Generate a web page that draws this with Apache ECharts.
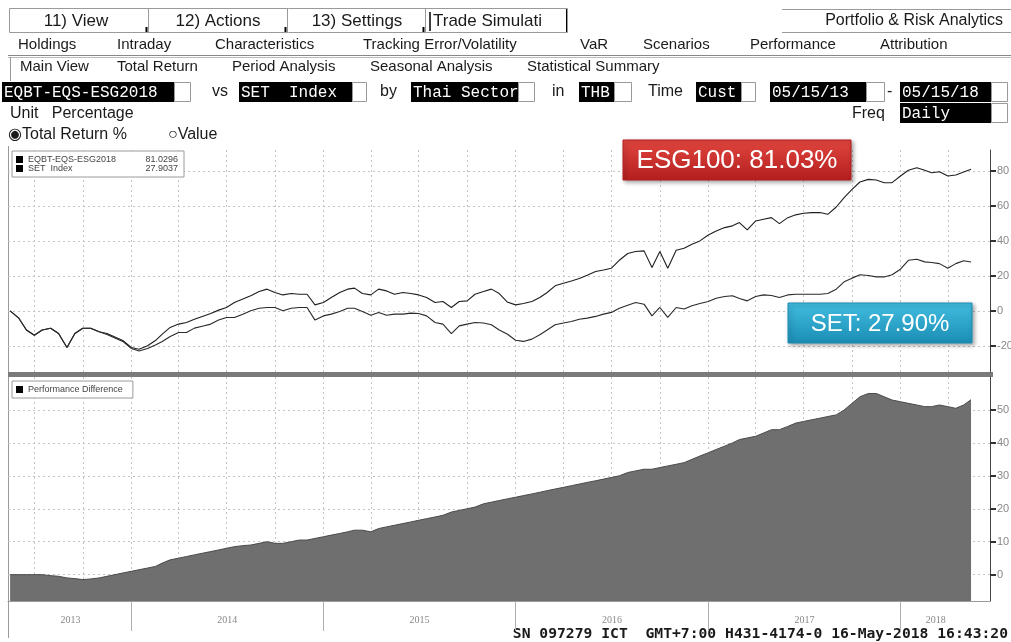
<!DOCTYPE html>
<html><head><meta charset="utf-8">
<script src="https://cdn.jsdelivr.net/npm/echarts@6/dist/echarts.min.js"></script>
<style>html,body{margin:0;padding:0;background:#fff}#c{width:1011px;height:642px}</style>
</head><body><div id="c"></div><script>
// ---- data (semi-monthly samples of the daily lines) ----
const dates = [
 '2013-05-16','2013-06-01','2013-06-16','2013-07-01','2013-07-16','2013-08-01','2013-08-16','2013-09-01','2013-09-16','2013-10-01','2013-10-16','2013-11-01','2013-11-16','2013-12-01','2013-12-16',
 '2014-01-01','2014-01-16','2014-02-01','2014-02-16','2014-03-01','2014-03-16','2014-04-01','2014-04-16','2014-05-01','2014-05-16','2014-06-01','2014-06-16',
 '2014-07-01','2014-07-16','2014-08-01','2014-08-16','2014-09-01','2014-09-16','2014-10-01','2014-10-16','2014-11-01','2014-11-16','2014-12-01','2014-12-16',
 '2015-01-01','2015-01-16','2015-02-01','2015-02-16','2015-03-01','2015-03-16','2015-04-01','2015-04-16','2015-05-01','2015-05-16','2015-06-01','2015-06-16',
 '2015-07-01','2015-07-16','2015-08-01','2015-08-16','2015-09-01','2015-09-16','2015-10-01','2015-10-16','2015-11-01','2015-11-16','2015-12-01','2015-12-16',
 '2016-01-01','2016-01-16','2016-02-01','2016-02-16','2016-03-01','2016-03-16','2016-04-01','2016-04-16','2016-05-01','2016-05-16','2016-06-01','2016-06-16',
 '2016-07-01','2016-07-16','2016-08-01','2016-08-16','2016-09-01','2016-09-16','2016-10-01','2016-10-16','2016-11-01','2016-11-16','2016-12-01','2016-12-16',
 '2017-01-01','2017-01-16','2017-02-01','2017-02-16','2017-03-01','2017-03-16','2017-04-01','2017-04-16','2017-05-01','2017-05-16','2017-06-01','2017-06-16',
 '2017-07-01','2017-07-16','2017-08-01','2017-08-16','2017-09-01','2017-09-16','2017-10-01','2017-10-16','2017-11-01','2017-11-16','2017-12-01','2017-12-16',
 '2018-01-01','2018-01-16','2018-02-01','2018-02-16','2018-03-01','2018-03-16','2018-04-01','2018-04-16','2018-05-01','2018-05-15'];
const esgReturn = [
 0,-4,-11,-14,-11,-10,-13,-21,-13,-10,-10,-12,-13,-15,-17,
 -21,-22,-20,-17,-13.3,-9.5,-7.6,-6.7,-4.8,-3.2,-1.5,0.4,
 1.9,4.8,6.7,8.6,11,12.4,10.5,9.1,9.9,9.5,9.5,3.4,
 4.8,7.6,10.5,12.4,13,9.9,9.1,12.4,11.4,9.5,10.5,9.9,
 9.1,7.6,4.8,5.3,1.9,5.3,5.7,9.5,11,12.4,9.9,5.1,
 3.4,4.2,5.3,7.6,10.5,14.3,15.8,17.1,18.5,20.4,22.5,23.4,
 24.4,28.9,32.8,33.9,34.3,24.8,33.9,24.4,34.7,35.8,38.1,40,
 43.4,45.7,47.6,48.6,50.5,46.3,51.4,52.4,53.3,49.9,53.3,54.9,
 55.8,56.2,56.2,55.2,59.4,64.8,69.5,73.7,75.2,74.8,73.3,73.3,
 77.1,80.4,81.9,80.4,79,79.6,77.1,77.7,79.4,81.03];
const setReturn = [
 0,-4,-11,-14,-11,-10,-13,-21,-13,-10,-10,-12,-13.5,-15.5,-17.5,
 -21.5,-23,-21.5,-19.5,-17.5,-14.7,-12.4,-12.4,-9.9,-8.8,-7.6,-5.3,
 -3.8,-3.8,-1.9,0,1.5,1.9,1.9,0,1.5,1.9,1.9,-5.3,
 -2.9,-1.9,-0.4,1.5,1.5,-0.4,-2.5,-1,-2.5,-1.9,-1.9,-1.3,
 -1.5,-2.9,-6.7,-7.6,-13,-8.6,-7.6,-6.7,-7,-8,-11,-13.3,
 -16.8,-17.5,-16.2,-13.7,-11,-8,-7,-6.1,-4.8,-4.2,-3.2,-1.9,
 -0.9,1.5,3.2,4.8,3.8,-2.9,1.9,-3.8,1.9,1,2.9,4.2,
 5.3,7.2,8.2,8.6,7,5.7,8.2,9.1,8.8,7.6,9.1,9.5,
 9.5,9.5,9.5,9.9,12.4,16.6,18.7,20.6,20.2,19.4,19.4,20.6,
 23.8,28.9,29.5,28,27.6,27,24.4,27,28.6,27.90];
const perfDiff = [
 0,0,0,0,0,-0.3,-0.5,-1,-1.2,-1.5,-1.3,-1,-0.5,0,0.5,
 1,1.5,2,2.5,3.5,4.5,5,5.5,6,6.5,7,7.5,
 8,8.5,8.8,9,9.5,10,9.5,9.5,10,10.5,10.5,11,
 11.5,12,12.5,13,13.5,13.5,13,14,14.5,15,15.5,16,
 16.5,17,17.5,18,19,19.5,20,20.5,21.5,22,22.5,23,
 23.5,24,24.5,25,25.5,26,26.5,27,27.5,28,28.5,29,
 29.5,30,31,31.5,32,32,32.5,33,33.5,34,35,36,
 37,38,39,40,41,41.5,42,43,44,44,45,46,
 46.5,47,47.5,48,48.5,50,52,54,55,55,54,53,
 52.5,52,51.5,51,51,51.5,51,50.5,51.5,53.13];
const seriesNames = ['EQBT-EQS-ESG2018', 'SET  Index', 'Performance Difference'];
const legendValues = ['81.0296', '27.9037'];
const years = [2013, 2014, 2015, 2016, 2017, 2018];
const upperTicks = [-20, 0, 20, 40, 60, 80];
const lowerTicks = [0, 10, 20, 30, 40, 50];
const calloutTexts = ['ESG100: 81.03%', 'SET: 27.90%'];
const startDate = '2013-05-15', endDate = '2018-05-15';
const axisStart = '2013-05-12', axisEnd = '2018-06-20';

// ---- derived axis helpers ----
const ts = d => +new Date(d + 'T00:00:00Z');
const tMin = ts(axisStart), tMax = ts(axisEnd);
const dStart = ts(startDate), dEnd = ts(endDate);
const yearStarts = years.slice(1).map(y => ts(y + '-01-01'));
const yearMids = years.map(y => {
  const a = Math.max(dStart, ts(y + '-01-01')), b = Math.min(dEnd, ts((y + 1) + '-01-01'));
  return (a + b) / 2;
});
const quarterLines = [];
years.forEach(y => ['01','04','07','10'].forEach(m => {
  const t = ts(y + '-' + m + '-01'); if (t > tMin && t < tMax) quarterLines.push(t);
}));
const pairs = arr => dates.map((d, i) => [ts(d), arr[i]]);

// ---- header UI helpers ----
const SANS = 'Liberation Sans', MONO = 'Liberation Mono';
const G = [];
function T(x, y, text, o) {
  o = o || {};
  G.push({type: 'text', x: x, y: y, silent: true, style: {text: text, fill: o.fill || '#1a1a1a',
    font: (o.weight || 'normal') + ' ' + (o.size || 15) + 'px "' + (o.family || SANS) + '"',
    align: o.align || 'left', verticalAlign: 'middle'}});
}
function R(x, y, w, h, fill, stroke) {
  G.push({type: 'rect', shape: {x: x, y: y, width: w, height: h}, silent: true,
    style: {fill: fill || 'none', stroke: stroke || null, lineWidth: 1}});
}
function L(x1, y1, x2, y2, c, w) {
  G.push({type: 'line', shape: {x1: x1, y1: y1, x2: x2, y2: y2}, silent: true,
    style: {stroke: c || '#888', lineWidth: w || 1}});
}
// row 1 tabs
R(9.5, 8.5, 558, 24, null, '#9a9a9a');
[148, 287, 425].forEach(x => { L(x + 0.5, 9, x + 0.5, 32, '#9a9a9a'); L(x - 1.5, 27, x - 1.5, 32, '#000', 2); });
T(76, 21, '11) View', {size: 17, align: 'center'});
T(218, 21, '12) Actions', {size: 17, align: 'center'});
T(357, 21, '13) Settings', {size: 17, align: 'center'});
T(433, 21, 'Trade Simulati', {size: 17});
L(430, 12, 430, 31, '#000', 1.5); L(566.5, 9, 566.5, 32, '#000', 1);
L(782, 9.5, 1011, 9.5, '#9a9a9a'); L(782, 32.5, 1011, 32.5, '#9a9a9a');
T(1003, 21, 'Portfolio & Risk Analytics', {size: 16, align: 'right'});
// row 2
[['Holdings',18],['Intraday',117],['Characteristics',215],['Tracking Error/Volatility',363],['VaR',580],['Scenarios',643],['Performance',750],['Attribution',880]]
  .forEach(a => T(a[1], 45, a[0], {size: 15}));
L(8, 55.5, 1011, 55.5, '#888'); L(8, 57.5, 1011, 57.5, '#bbb');
// row 3
[['Main View',20],['Total Return',117],['Period Analysis',232],['Seasonal Analysis',370],['Statistical Summary',527]]
  .forEach(a => T(a[1], 67, a[0], {size: 15}));
L(10.5, 57, 10.5, 81, '#999');
// row 4 field boxes
function field(x, w, text, wbox) {
  R(x, 82, w, 20, '#000'); R(x + w + 0.5, 82.5, wbox, 19, '#fff', '#999');
  T(x + 2, 92.5, text, {fill: '#fff', family: MONO, size: 16});
}
field(2, 172, 'EQBT-EQS-ESG2018', 16);
T(212, 92, 'vs', {size: 16});
field(239, 113, 'SET  Index', 14);
T(380, 92, 'by', {size: 16});
field(411, 107, 'Thai Sector', 16);
T(552, 92, 'in', {size: 16});
field(579, 35, 'THB', 17);
T(648, 92, 'Time', {size: 16});
field(696, 45, 'Cust', 14);
field(770, 96, '05/15/13', 18);
T(887, 92, '-', {size: 16});
field(900, 91, '05/15/18', 16);
// row 5
T(10, 114, 'Unit   Percentage', {size: 16});
T(852, 114, 'Freq', {size: 16});
R(900, 103, 91, 20, '#000'); R(991.5, 103.5, 16, 19, '#fff', '#999');
T(902, 113.5, 'Daily', {fill: '#fff', family: MONO, size: 16});
// row 6
T(8, 135, '\u25C9Total Return %', {size: 16});
T(168, 135, '\u25CBValue', {size: 16});
// plot frame pieces
L(8.5, 146, 8.5, 638, '#9a9a9a');
R(8, 372, 985, 5, '#7a7a7a');
// callouts
function callout(x, y, w, h, c1, c2, text, size) {
  G.push({type: 'rect', shape: {x: x, y: y, width: w, height: h}, silent: true, z: 100,
    style: {fill: new echarts.graphic.LinearGradient(0, 0, 0, 1, [{offset: 0, color: c1}, {offset: 1, color: c2}]),
      stroke: c2, lineWidth: 1, shadowBlur: 4, shadowOffsetX: 2, shadowOffsetY: 2, shadowColor: 'rgba(0,0,0,0.35)'}});
  G.push({type: 'text', x: x + w / 2, y: y + h / 2 + 1, z: 101, silent: true,
    style: {text: text, fill: '#fff', font: size + 'px "' + SANS + '"', align: 'center', verticalAlign: 'middle'}});
}
callout(623, 140, 228, 40, '#e2463f', '#b31e1e', calloutTexts[0], 26);
callout(788, 303, 184, 40, '#41bde0', '#1b8db4', calloutTexts[1], 24);
// footer
T(1008, 634, 'SN 097279 ICT  GMT+7:00 H431-4174-0 16-May-2018 16:43:20', {family: 'DejaVu Sans Mono', weight: 'bold', size: 14.7, align: 'right'});

const dotted = {show: true, lineStyle: {color: '#c4c4c4', type: [2, 3], width: 1}};
const chart = echarts.init(document.getElementById('c'), null, {renderer: 'canvas'});
chart.setOption({
  animation: false,
  backgroundColor: '#fff',
  grid: [
    {left: 8, right: 21, top: 150, bottom: 270, containLabel: false, outerBoundsMode: 'none'},
    {left: 8, right: 21, top: 377, bottom: 41, containLabel: false, outerBoundsMode: 'none'}
  ],
  legend: [
    {data: seriesNames.slice(0, 2), left: 12, top: 151, orient: 'vertical', itemGap: 0, itemWidth: 7, itemHeight: 7,
     icon: 'rect', selectedMode: false, borderColor: '#9a9a9a', borderWidth: 1, padding: [4, 6, 4, 4], backgroundColor: '#fff',
     formatter: n => '{n|' + n + '}{v|' + legendValues[seriesNames.indexOf(n)] + '}',
     textStyle: {fontSize: 9, color: '#444', fontFamily: SANS,
       rich: {n: {width: 104, fontSize: 9, color: '#444'}, v: {width: 46, align: 'right', fontSize: 9, color: '#444'}}}},
    {data: [seriesNames[2]], left: 12, top: 381, itemWidth: 7, itemHeight: 7, icon: 'rect', selectedMode: false,
     borderColor: '#9a9a9a', borderWidth: 1, padding: [4, 10, 4, 4], backgroundColor: '#fff',
     textStyle: {fontSize: 9, color: '#444', fontFamily: SANS}}
  ],
  xAxis: [
    {type: 'value', gridIndex: 0, min: tMin, max: tMax, axisLine: {show: false}, axisLabel: {show: false},
     axisTick: {show: false, customValues: quarterLines}, splitLine: dotted},
    {type: 'value', gridIndex: 1, min: tMin, max: tMax, position: 'bottom',
     axisLine: {show: true, onZero: false, lineStyle: {color: '#9a9a9a'}},
     axisTick: {show: true, customValues: yearStarts, length: 30, lineStyle: {color: '#b0b0b0'}},
     axisLabel: {show: true, customValues: yearMids, margin: 14, color: '#888', fontSize: 10, fontFamily: 'Liberation Serif',
       formatter: v => String(new Date(v).getUTCFullYear())},
     splitLine: {show: false}},
    {type: 'value', gridIndex: 1, min: tMin, max: tMax, position: 'top', axisLine: {show: false}, axisLabel: {show: false},
     axisTick: {show: false, customValues: quarterLines}, splitLine: dotted}
  ],
  yAxis: [
    {type: 'value', gridIndex: 0, position: 'right', min: -35, max: 92,
     axisLine: {show: true, lineStyle: {color: '#444'}},
     axisTick: {show: true, customValues: upperTicks, length: 6, lineStyle: {color: '#333', width: 2}},
     axisLabel: {customValues: upperTicks, color: '#888', fontSize: 11, margin: 7},
     splitLine: dotted},
    {type: 'value', gridIndex: 1, position: 'right', min: -8, max: 60,
     axisLine: {show: true, lineStyle: {color: '#444'}},
     axisTick: {show: true, customValues: lowerTicks, length: 6, lineStyle: {color: '#333', width: 2}},
     axisLabel: {customValues: lowerTicks, color: '#888', fontSize: 11, margin: 7},
     splitLine: dotted}
  ],
  series: [
    {name: seriesNames[0], type: 'line', xAxisIndex: 0, yAxisIndex: 0, data: pairs(esgReturn), showSymbol: false,
     lineStyle: {color: '#1f1f1f', width: 1.1}, itemStyle: {color: '#000'}},
    {name: seriesNames[1], type: 'line', xAxisIndex: 0, yAxisIndex: 0, data: pairs(setReturn), showSymbol: false,
     lineStyle: {color: '#2a2a2a', width: 1.1}, itemStyle: {color: '#000'}},
    {name: seriesNames[2], type: 'line', xAxisIndex: 1, yAxisIndex: 1, data: pairs(perfDiff), showSymbol: false,
     lineStyle: {color: '#4a4a4a', width: 1}, itemStyle: {color: '#000'},
     areaStyle: {color: '#6f6f6f', opacity: 1, origin: 'start'}}
  ],
  graphic: G
});
</script></body></html>
